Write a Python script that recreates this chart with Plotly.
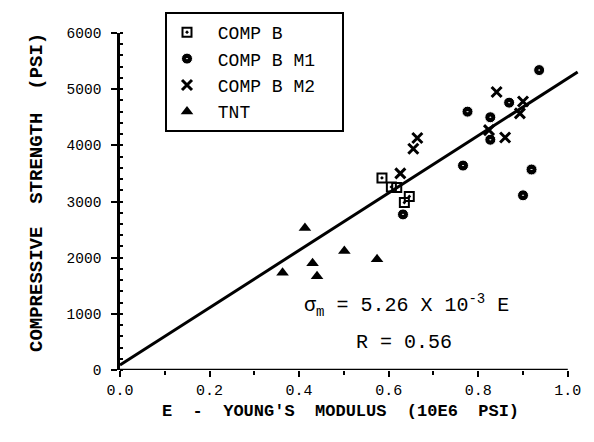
import plotly.graph_objects as go

# ---- data ----
compb_x = [0.585, 0.606, 0.618, 0.635, 0.646]
compb_y = [3420, 3260, 3250, 2980, 3090]

m1_x = [0.936, 0.869, 0.776, 0.827, 0.827, 0.766, 0.919, 0.900, 0.632]
m1_y = [5340, 4760, 4600, 4500, 4100, 3640, 3570, 3110, 2770]

m2_x = [0.841, 0.900, 0.893, 0.824, 0.860, 0.664, 0.655, 0.626]
m2_y = [4950, 4780, 4570, 4270, 4140, 4130, 3940, 3500]

tnt_x = [0.413, 0.363, 0.430, 0.440, 0.501, 0.574]
tnt_y = [2530, 1730, 1900, 1670, 2120, 1970]

fit_x = [0.0, 1.022]
fit_y = [90, 5305]

x_ticks = [0.0, 0.2, 0.4, 0.6, 0.8, 1.0]
x_ticklabels = ["0.0", "0.2", "0.4", "0.6", "0.8", "1.0"]
y_ticks = [0, 1000, 2000, 3000, 4000, 5000, 6000]
y_ticklabels = ["0", "1000", "2000", "3000", "4000", "5000", "6000"]

MONO = "Liberation Mono, Courier New, monospace"
NB = "\u00a0"

fig = go.Figure()

fig.add_trace(go.Scatter(x=fit_x, y=fit_y, mode="lines",
                         line=dict(color="black", width=3),
                         showlegend=False, hoverinfo="skip"))

fig.add_trace(go.Scatter(x=compb_x, y=compb_y, mode="markers", name=NB + "COMP B",
                         legendgroup="a",
                         marker=dict(symbol="square-open-dot", size=9, color="black",
                                     line=dict(color="black", width=2))))
fig.add_trace(go.Scatter(x=m1_x, y=m1_y, mode="markers", name=NB + "COMP B M1" + NB * 2,
                         legendgroup="b",
                         marker=dict(symbol="circle-dot", size=11, color="black",
                                     line=dict(color="white", width=1))))
fig.add_trace(go.Scatter(x=m2_x, y=m2_y, mode="markers", name=NB + "COMP B M2",
                         legendgroup="c",
                         marker=dict(symbol="x-thin", size=10, color="black",
                                     line=dict(color="black", width=3))))
fig.add_trace(go.Scatter(x=tnt_x, y=tnt_y, mode="markers", name=NB + "TNT",
                         legendgroup="d",
                         marker=dict(symbol="triangle-up", size=11, color="black")))

# the page body has an 8px default margin, so the figure is drawn 8px in
OFF = 8
W, H = 594 - OFF, 442 - OFF
PLOT_L = 120
PLOT_W = 459
PLOT_B = 370
PLOT_H = 337


def px_x(p):
    return (p - PLOT_L) / PLOT_W


def px_y(p):
    return (PLOT_B - p) / PLOT_H


fig.update_layout(
    width=W, height=H,
    margin=dict(l=PLOT_L - OFF, r=W - (PLOT_L - OFF) - PLOT_W, t=PLOT_B - PLOT_H - OFF,
                b=H - (PLOT_B - OFF), autoexpand=False),
    paper_bgcolor="white", plot_bgcolor="white",
    font=dict(family=MONO, color="black"),
    showlegend=True,
    legend=dict(xref="container", yref="container",
                x=(165 - OFF) / W, y=1 - (12 - OFF) / H, xanchor="left", yanchor="top",
                bordercolor="black", borderwidth=2, bgcolor="white",
                font=dict(family=MONO, size=18, color="black"),
                tracegroupgap=0, itemwidth=30),
    xaxis=dict(range=[0, 1.025], showgrid=False, zeroline=False, showline=False,
               tickmode="array", tickvals=x_ticks, ticktext=x_ticklabels,
               ticks="outside", ticklen=6, tickwidth=2, tickcolor="black",
               ticklabelstandoff=0,
               tickfont=dict(family=MONO, size=15, color="black"),
               minor=dict(dtick=0.1, ticks="outside", ticklen=4, tickwidth=2,
                          tickcolor="black", showgrid=False)),
    yaxis=dict(range=[0, 6000], showgrid=False, zeroline=False, showline=True,
               linecolor="black", linewidth=2.5,
               tickmode="array", tickvals=y_ticks, ticktext=y_ticklabels,
               ticks="outside", ticklen=6, tickwidth=2, tickcolor="black",
               ticklabelstandoff=7,
               tickfont=dict(family=MONO, size=14.5, color="black"),
               minor=dict(dtick=200, ticks="inside", ticklen=3, tickwidth=2,
                          tickcolor="black", showgrid=False)),
    shapes=[dict(type="line", xref="x", yref="y", x0=0, x1=1.0, y0=0, y1=0,
                 line=dict(color="black", width=2.5))],
    annotations=[
        dict(text="<b>E  -  YOUNG'S  MODULUS  (10E6  PSI)</b>", xref="paper", yref="paper",
             x=px_x(340), y=px_y(411), xanchor="center", yanchor="middle",
             showarrow=False, font=dict(family=MONO, size=17, color="black")),
        dict(text="<b>COMPRESSIVE  STRENGTH  (PSI)</b>", xref="paper", yref="paper",
             x=px_x(37), y=px_y(193), xanchor="center", yanchor="middle", textangle=-90,
             showarrow=False, font=dict(family=MONO, size=19, color="black")),
        dict(text="σ<sub>m</sub> = 5.26 X 10<sup>-3</sup> E", xref="paper", yref="paper",
             x=px_x(406), y=px_y(305), xanchor="center", yanchor="middle",
             showarrow=False, font=dict(family=MONO, size=20, color="black")),
        dict(text="R = 0.56", xref="paper", yref="paper",
             x=px_x(404), y=px_y(342), xanchor="center", yanchor="middle",
             showarrow=False, font=dict(family=MONO, size=20, color="black")),
    ],
)

fig.write_html("out.html")
